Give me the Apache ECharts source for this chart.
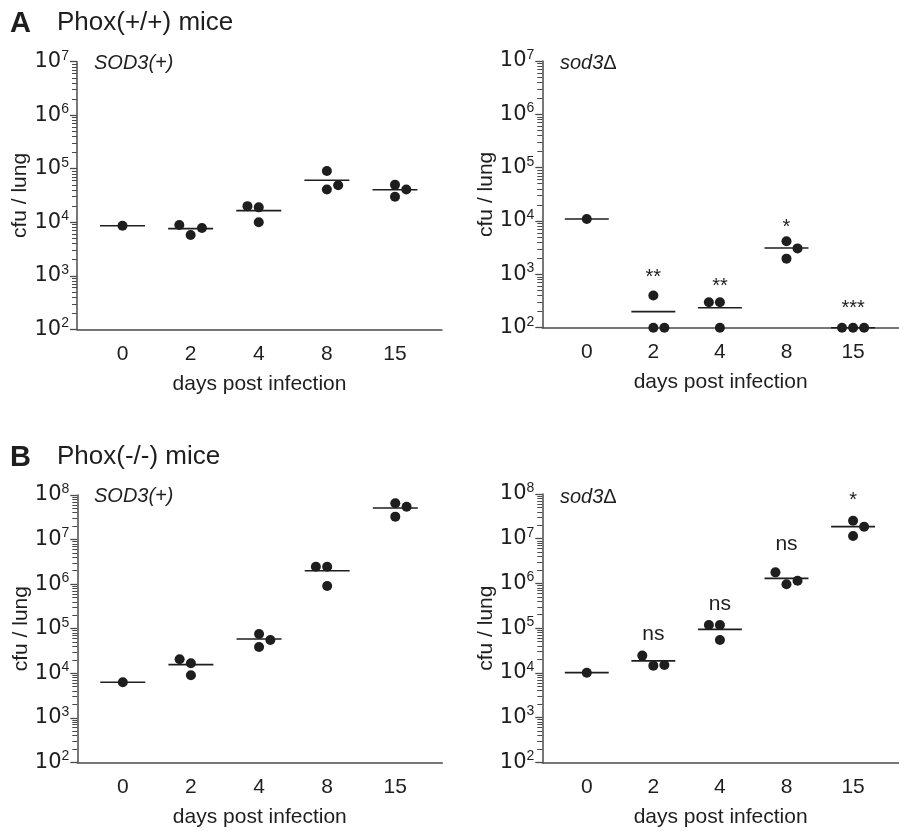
<!DOCTYPE html>
<html><head><meta charset="utf-8">
<script src="https://cdn.jsdelivr.net/npm/echarts@6/dist/echarts.min.js"></script>
<style>html,body{margin:0;padding:0;background:#fff}#c{width:899px;height:831px}</style>
</head><body><div id="c"></div>
<script>
// ---- data (cfu / lung) ----
const days = ['0', '2', '4', '8', '15'];

// A  Phox(+/+) mice, SOD3(+)
const aSodDots = [[8600], [8900, 5800, 7800], [20000, 19000, 10000], [91000, 41000, 49000], [50000, 30000, 41000]];
const aSodJitter = [[0], [-1, 0, 1], [-1, 0, 0], [0, 0, 1], [0, 0, 1]];
const aSodMeans = [8600, 7600, 16500, 61000, 40600];

// A  Phox(+/+) mice, sod3Δ
const aDelDots = [[10900], [400, 100, 100], [300, 300, 100], [4160, 3070, 1970], [100, 100, 100]];
const aDelJitter = [[0], [0, 0, 1], [-1, 0, 0], [0, 1, 0], [-1, 0, 1]];
const aDelMeans = [10900, 200, 237, 3120, 100];
const aDelMarks = ['', '**', '**', '*', '***'];
const aDelMarkAt = [0, 1060, 690, 9060, 278];

// B  Phox(-/-) mice, SOD3(+)
const bSodDots = [[6250], [20500, 8980, 16700], [76000, 55700, 38700], [2460000, 2460000, 908000], [65000000, 54700000, 32700000]];
const bSodJitter = [[0], [-1, 0, 0], [0, 1, 0], [-1, 0, 0], [0, 1, 0]];
const bSodMeans = [6250, 15600, 58600, 2000000, 51000000];

// B  Phox(-/-) mice, sod3Δ
const bDelDots = [[10100], [24300, 14500, 15000], [118000, 118000, 54300], [1770000, 955000, 1150000], [25300000, 18600000, 11500000]];
const bDelJitter = [[0], [-1, 0, 1], [-1, 0, 0], [-1, 0, 1], [0, 1, 0]];
const bDelMeans = [10100, 18500, 94000, 1300000, 18600000];
const bDelMarks = ['', 'ns', 'ns', 'ns', '*'];
const bDelMarkAt = [0, 78000, 370000, 7900000, 86000000];

// ---- chart ----
const FONT = 'Liberation Sans, Arial, Helvetica, sans-serif';
const INK = '#1e1e1e';
const AXIS = '#4a4a4a';
const JIT = 0.166;   // horizontal dot displacement (category units)
const HALF = 0.33;   // half width of mean bar (category units)

const panels = [
  { grid: { left: 77, top: 61.7, width: 365, height: 267.6 }, yMin: 2, yMax: 7, dots: aSodDots, jitter: aSodJitter, means: aSodMeans },
  { grid: { left: 542.3, top: 61, width: 365.4, height: 266.7 }, yMin: 2, yMax: 7, dots: aDelDots, jitter: aDelJitter, means: aDelMeans, marks: aDelMarks, markAt: aDelMarkAt },
  { grid: { left: 77.3, top: 495, width: 365, height: 267.3 }, yMin: 2, yMax: 8, dots: bSodDots, jitter: bSodJitter, means: bSodMeans },
  { grid: { left: 542.3, top: 494, width: 365.4, height: 268.3 }, yMin: 2, yMax: 8, dots: bDelDots, jitter: bDelJitter, means: bDelMeans, marks: bDelMarks, markAt: bDelMarkAt }
];

const grid = [], xAxis = [], yAxis = [], series = [];
panels.forEach((p, g) => {
  grid.push(p.grid);
  xAxis.push({
    type: 'value', gridIndex: g, min: -0.668, max: 4.69,
    axisLine: { show: true, onZero: false, lineStyle: { color: AXIS, width: 1.5 } },
    axisTick: { show: false }, splitLine: { show: false },
    axisLabel: { customValues: [0, 1, 2, 3, 4], formatter: v => days[Math.round(v)],
      fontSize: 21, fontFamily: FONT, color: INK, margin: 14 },
    name: 'days post infection', nameLocation: 'middle', nameGap: 44, nameMoveOverlap: false,
    nameTextStyle: { fontSize: 21, fontFamily: FONT, color: INK }
  });
  const minor = [];
  for (let e = p.yMin; e < p.yMax; e++) for (let k = 2; k <= 9; k++) minor.push(e + Math.log10(k));
  yAxis.push({
    type: 'value', gridIndex: g, position: 'left', offset: 0, min: p.yMin, max: p.yMax, interval: 1,
    axisLine: { show: true, onZero: false, lineStyle: { color: AXIS, width: 1.5 } },
    axisTick: { show: true, length: 7, lineStyle: { color: AXIS, width: 1.3 } },
    splitLine: { show: false },
    axisLabel: {
      margin: 8, formatter: v => '{b|10}{s|' + v + '}',
      rich: {
        b: { fontSize: 21, fontFamily: 'DejaVu Sans', color: INK, lineHeight: 26 },
        s: { fontSize: 14, fontFamily: FONT, color: INK, lineHeight: 14, verticalAlign: 'top' }
      }
    },
    name: 'cfu / lung', nameLocation: 'middle', nameGap: 46, nameRotate: 90, nameMoveOverlap: false,
    nameTextStyle: { fontSize: 21, fontFamily: FONT, color: INK }
  });
  yAxis.push({
    type: 'value', gridIndex: g, position: 'left', offset: 0, min: p.yMin, max: p.yMax,
    axisLine: { show: false, onZero: false }, axisLabel: { show: false }, splitLine: { show: false },
    axisTick: { show: true, length: 5, customValues: minor, lineStyle: { color: AXIS, width: 1 } }
  });
  const dotData = [];
  p.dots.forEach((vals, i) => vals.forEach((v, j) => dotData.push([i + p.jitter[i][j] * JIT, Math.log10(v)])));
  series.push({
    type: 'scatter', xAxisIndex: g, yAxisIndex: 2 * g, data: dotData, clip: false, z: 5,
    symbol: 'circle', symbolSize: 10, itemStyle: { color: INK, opacity: 1 }, silent: true
  });
  series.push({
    type: 'custom', xAxisIndex: g, yAxisIndex: 2 * g, clip: false, z: 4,
    data: p.means.map((m, i) => [i, Math.log10(m)]),
    renderItem: (params, api) => {
      const a = api.coord([api.value(0) - HALF, api.value(1)]);
      const b = api.coord([api.value(0) + HALF, api.value(1)]);
      return { type: 'line', shape: { x1: a[0], y1: a[1], x2: b[0], y2: b[1] },
        style: { stroke: INK, lineWidth: 1.6 } };
    }
  });
  if (p.marks) {
    const md = [];
    p.marks.forEach((t, i) => { if (t) md.push([i, Math.log10(p.markAt[i]), i]); });
    series.push({
      type: 'custom', xAxisIndex: g, yAxisIndex: 2 * g, clip: false, z: 6, data: md,
      renderItem: (params, api) => {
        const c = api.coord([api.value(0), api.value(1)]);
        const t = p.marks[api.value(2)];
        const star = t.indexOf('*') >= 0;
        return { type: 'text', x: c[0], y: c[1] + (star ? 4 : 1),
          style: { text: t, fontSize: star ? 20 : 21, fontFamily: FONT, fill: INK,
            align: 'center', verticalAlign: 'middle', textAlign: 'center', textVerticalAlign: 'middle' } };
      }
    });
  }
});

const txt = (x, y, text, size, extra) => Object.assign({ type: 'text', x: x, y: y,
  style: Object.assign({ text: text, fontSize: size, fontFamily: FONT, fill: INK, verticalAlign: 'top', textVerticalAlign: 'top' }, extra || {}) });
const italicRich = { i: { fontStyle: 'italic', fontSize: 20, fontFamily: FONT, fill: INK } };

const graphic = [
  txt(10, 9, 'A', 29, { fontWeight: 'bold' }),
  txt(57, 10, 'Phox(+/+) mice', 26),
  txt(10, 443, 'B', 29, { fontWeight: 'bold' }),
  txt(57, 444, 'Phox(-/-) mice', 26),
  txt(94, 53, 'SOD3(+)', 20, { fontStyle: 'italic' }),
  txt(94, 486, 'SOD3(+)', 20, { fontStyle: 'italic' }),
  txt(560, 53, '{i|sod3}Δ', 20, { rich: italicRich }),
  txt(560, 487, '{i|sod3}Δ', 20, { rich: italicRich })
];

const chart = echarts.init(document.getElementById('c'), null, { renderer: 'canvas' });
chart.setOption({ animation: false, backgroundColor: '#fff', grid, xAxis, yAxis, series, graphic });
</script>
</body></html>
